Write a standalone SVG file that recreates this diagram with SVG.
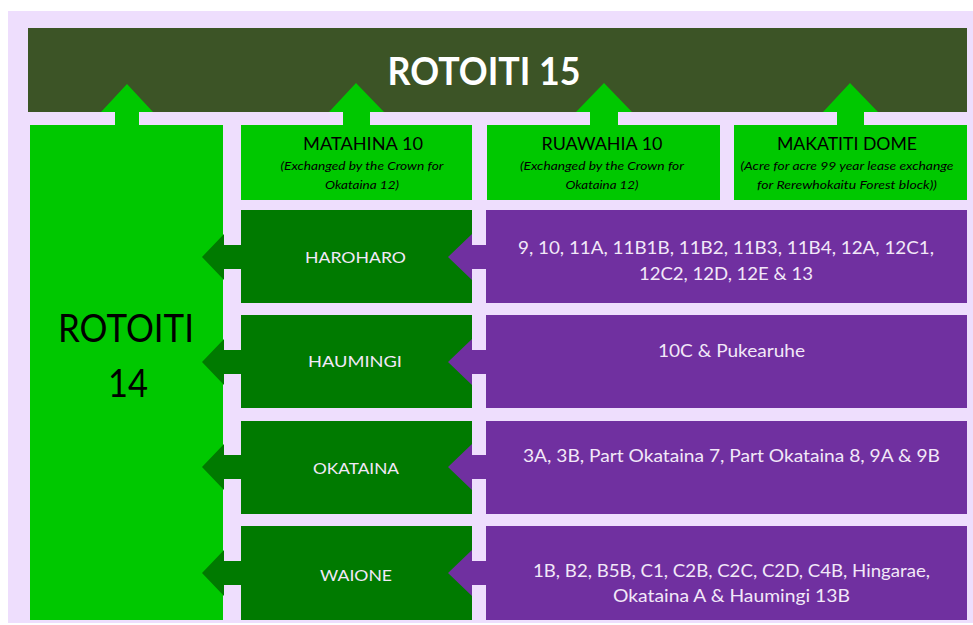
<svg xmlns="http://www.w3.org/2000/svg" width="973" height="625" viewBox="0 0 973 625">
<style>
.t{font-family:Lato,"Liberation Sans",Arial,sans-serif;text-anchor:middle}
.bg{fill:#EEDEFD}
.top{fill:#3C5426}
.lg{fill:#00C800}
.dg{fill:#007A00}
.pu{fill:#7030A0}
.wt{fill:#FFFFFF}
.lt{fill:#F2E8F8}
.bk{fill:#000000}
.it{font-style:italic;font-size:12px}
</style>
<rect x="0" y="0" width="973" height="625" fill="#FFFFFF"/>
<rect class="bg" x="8" y="11" width="965" height="612"/>

<g id="rotoiti15">
<rect class="top" x="28" y="28" width="939" height="84"/>
<text class="t wt" x="484" y="85" font-size="39" font-weight="bold" textLength="193" lengthAdjust="spacingAndGlyphs">ROTOITI 15</text>
</g>

<g id="rotoiti14">
<rect class="lg" x="30" y="125" width="193" height="495"/>
<text class="t bk" x="126" y="342" font-size="38" textLength="136" lengthAdjust="spacingAndGlyphs">ROTOITI</text>
<text class="t bk" x="128" y="397" font-size="38" textLength="40" lengthAdjust="spacingAndGlyphs">14</text>
</g>

<g id="matahina">
<rect class="lg" x="241" y="125" width="231" height="75"/>
<text class="t bk" x="363" y="150" font-size="17" textLength="120" lengthAdjust="spacingAndGlyphs">MATAHINA 10</text>
<text class="t bk it" x="362" y="170" textLength="163" lengthAdjust="spacingAndGlyphs">(Exchanged by the Crown for</text>
<text class="t bk it" x="362" y="189" textLength="74" lengthAdjust="spacingAndGlyphs">Okataina 12)</text>
</g>

<g id="ruawahia">
<rect class="lg" x="487" y="125" width="233" height="75"/>
<text class="t bk" x="602" y="150" font-size="17" textLength="121" lengthAdjust="spacingAndGlyphs">RUAWAHIA 10</text>
<text class="t bk it" x="602" y="170" textLength="164" lengthAdjust="spacingAndGlyphs">(Exchanged by the Crown for</text>
<text class="t bk it" x="602" y="189" textLength="73" lengthAdjust="spacingAndGlyphs">Okataina 12)</text>
</g>

<g id="makatiti">
<rect class="lg" x="734" y="125" width="233" height="75"/>
<text class="t bk" x="847" y="150" font-size="17" textLength="140" lengthAdjust="spacingAndGlyphs">MAKATITI DOME</text>
<text class="t bk it" x="847" y="170" textLength="213" lengthAdjust="spacingAndGlyphs">(Acre for acre 99 year lease exchange</text>
<text class="t bk it" x="847" y="189" textLength="180" lengthAdjust="spacingAndGlyphs">for Rerewhokaitu Forest block))</text>
</g>

<g id="haroharo">
<rect class="dg" x="241" y="210" width="231" height="93"/>
<text class="t lt" x="355.5" y="263" font-size="16" textLength="101" lengthAdjust="spacingAndGlyphs">HAROHARO</text>
</g>
<g id="haumingi">
<rect class="dg" x="241" y="315" width="231" height="93"/>
<text class="t lt" x="355" y="367" font-size="16" textLength="94" lengthAdjust="spacingAndGlyphs">HAUMINGI</text>
</g>
<g id="okataina">
<rect class="dg" x="241" y="421" width="231" height="93"/>
<text class="t lt" x="356" y="474" font-size="16" textLength="86" lengthAdjust="spacingAndGlyphs">OKATAINA</text>
</g>
<g id="waione">
<rect class="dg" x="241" y="526" width="231" height="94"/>
<text class="t lt" x="356" y="581" font-size="16" textLength="72" lengthAdjust="spacingAndGlyphs">WAIONE</text>
</g>

<g id="blocks-haroharo">
<rect class="pu" x="486" y="210" width="481" height="93"/>
<text class="t lt" x="726" y="254" font-size="18" textLength="416" lengthAdjust="spacingAndGlyphs">9, 10, 11A, 11B1B, 11B2, 11B3, 11B4, 12A, 12C1,</text>
<text class="t lt" x="726" y="280" font-size="18" textLength="174" lengthAdjust="spacingAndGlyphs">12C2, 12D, 12E &amp; 13</text>
</g>
<g id="blocks-haumingi">
<rect class="pu" x="486" y="315" width="481" height="93"/>
<text class="t lt" x="731.5" y="357" font-size="18" textLength="147" lengthAdjust="spacingAndGlyphs">10C &amp; Pukearuhe</text>
</g>
<g id="blocks-okataina">
<rect class="pu" x="486" y="421" width="481" height="93"/>
<text class="t lt" x="731.5" y="462" font-size="18" textLength="417" lengthAdjust="spacingAndGlyphs">3A, 3B, Part Okataina 7, Part Okataina 8, 9A &amp; 9B</text>
</g>
<g id="blocks-waione">
<rect class="pu" x="486" y="526" width="481" height="94"/>
<text class="t lt" x="731.5" y="577" font-size="18" textLength="397" lengthAdjust="spacingAndGlyphs">1B, B2, B5B, C1, C2B, C2C, C2D, C4B, Hingarae,</text>
<text class="t lt" x="731.5" y="602" font-size="18" textLength="237" lengthAdjust="spacingAndGlyphs">Okataina A &amp; Haumingi 13B</text>
</g>

<g id="connectors">
<polygon class="lg" points="115,125 115,112 101,112 127,84 153,112 139,112 139,125"/>
<polygon class="lg" points="343,125 343,112 329,112 356,83 384,112 370,112 370,125"/>
<polygon class="lg" points="590,125 590,112 576,112 604,83 632,112 618,112 618,125"/>
<polygon class="lg" points="837,125 837,112 823,112 850,83 878,112 864,112 864,125"/>

<polygon class="dg" points="241,245 224,245 224,234 202,257 224,280 224,269 241,269"/>
<polygon class="dg" points="241,350 224,350 224,339 202,362 224,385 224,374 241,374"/>
<polygon class="dg" points="241,455 224,455 224,444 202,467 224,490 224,479 241,479"/>
<polygon class="dg" points="241,561 224,561 224,550 202,573 224,596 224,585 241,585"/>

<polygon class="pu" points="486,245 472,245 472,234 448,257 472,280 472,269 486,269"/>
<polygon class="pu" points="486,350 472,350 472,339 448,362 472,385 472,374 486,374"/>
<polygon class="pu" points="486,455 472,455 472,444 448,467 472,490 472,479 486,479"/>
<polygon class="pu" points="486,561 472,561 472,550 448,573 472,596 472,585 486,585"/>
</g>
</svg>
